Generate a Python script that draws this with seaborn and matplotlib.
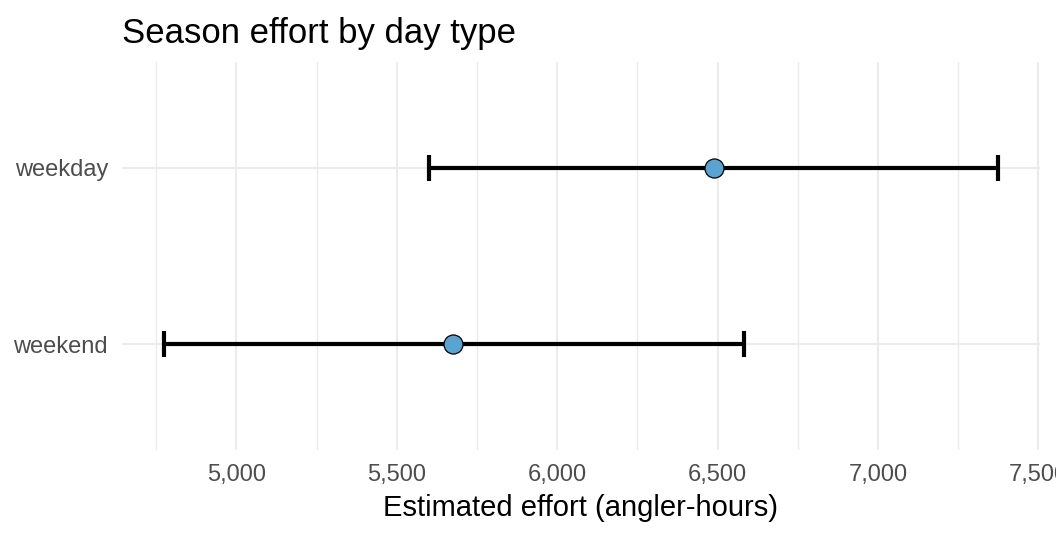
import matplotlib
matplotlib.use('Agg')
import matplotlib.pyplot as plt
import seaborn as sns
import pandas as pd
from matplotlib.ticker import FuncFormatter, MultipleLocator

# Werte
day_type = ['weekend', 'weekday']
estimate = [5676, 6488]
lower = [4773, 5601]
upper = [6582, 7375]

df = pd.DataFrame({'day_type': day_type, 'estimate': estimate,
                   'lower': lower, 'upper': upper})

sns.set_theme(style='white')
plt.rcParams['font.family'] = ['Liberation Sans', 'DejaVu Sans']

fig = plt.figure(figsize=(10.56, 5.37), dpi=100)
ax = fig.add_axes([0.1155, 0.162, 0.8693, 0.7225])

xerr = [df['estimate'] - df['lower'], df['upper'] - df['estimate']]
ax.errorbar(df['estimate'], df['day_type'], xerr=xerr, fmt='none',
            ecolor='black', elinewidth=3.0, capsize=9.4, capthick=3.0, zorder=2)
sns.scatterplot(data=df, x='estimate', y='day_type', s=188, color='#5AA2D0',
                edgecolor='black', linewidth=0.9, zorder=3, ax=ax)

# Achsen wie ggplot theme_minimal
ax.set_xlim(4643, 7505)
ax.set_ylim(-0.6, 1.6)
ax.xaxis.set_major_locator(MultipleLocator(500))
ax.xaxis.set_minor_locator(MultipleLocator(250))
ax.xaxis.set_major_formatter(FuncFormatter(lambda v, p: f'{int(v):,}'))
ax.grid(which='major', axis='both', color='#EBEBEB', linewidth=1.4)
ax.grid(which='minor', axis='x', color='#EBEBEB', linewidth=1.0)
ax.set_axisbelow(True)
for s in ax.spines.values():
    s.set_visible(False)
ax.tick_params(axis='both', which='both', length=0, labelsize=17,
               labelcolor='#4D4D4D')
ax.tick_params(axis='x', pad=10)
ax.tick_params(axis='y', pad=10)

ax.set_xlabel('Estimated effort (angler-hours)', fontsize=21, color='black', labelpad=6)
ax.set_ylabel('')
ax.set_title('Season effort by day type', loc='left', fontsize=25, pad=14, color='black')

fig.savefig('out.png', dpi=100)
